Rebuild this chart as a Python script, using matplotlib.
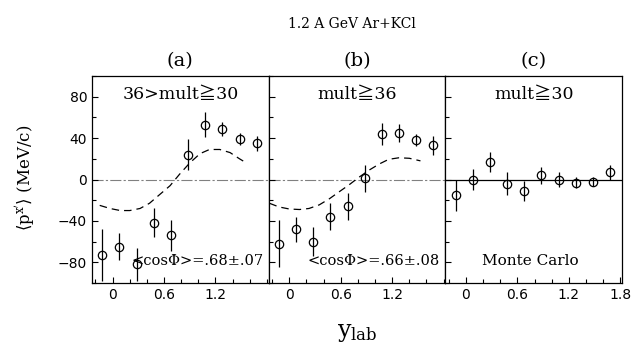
import matplotlib
matplotlib.use("Agg")
import matplotlib.pyplot as plt
from matplotlib.ticker import MultipleLocator, FixedLocator

plt.rcParams['mathtext.fontset'] = 'dejavuserif'

# ---- data ----
y_lab = [-0.12, 0.08, 0.28, 0.48, 0.68, 0.88, 1.08, 1.28, 1.48, 1.68]

px_a = [-73, -65, -82, -42, -54, 24, 53, 49, 39, 35]
err_a = [25, 13, 16, 14, 15, 15, 12, 7, 6, 7]

px_b = [-62, -48, -60, -36, -26, 1, 44, 45, 38, 33]
err_b = [23, 12, 14, 13, 13, 13, 11, 9, 6, 9]

px_c = [-15, 0, 17, -4, -11, 4, 0, -3, -2, 7]
err_c = [15, 10, 10, 11, 10, 8, 7, 5, 4, 7]

fit_a_x = [-0.15, -0.03, 0.09, 0.20, 0.32, 0.43, 0.55, 0.67, 0.78, 0.90, 1.02, 1.13, 1.25, 1.37, 1.48, 1.53]
fit_a_y = [-25, -28, -30, -30, -28, -23, -14.5, -6, 5, 16, 25, 29, 29, 26, 20, 17.5]

fit_b_x = [-0.23, -0.12, 0.0, 0.12, 0.23, 0.35, 0.47, 0.58, 0.70, 0.81, 0.93, 1.05, 1.16, 1.28, 1.40, 1.53]
fit_b_y = [-23, -26.5, -28.5, -29, -28, -24.5, -18.5, -12, -5, 2, 9, 15, 19.5, 21, 20.5, 18]

panel_labels = ["(a)", "(b)", "(c)"]
cut_labels = ["36>mult\u226730", "mult\u226736", "mult\u226730"]
bottom_labels = ["<cos\u03a6>=.68\u00b1.07", "<cos\u03a6>=.66\u00b1.08", "Monte Carlo"]
title = "1.2 A GeV Ar+KCl"

W, H = 643, 347
fig = plt.figure(figsize=(W / 100, H / 100), dpi=100)

left_px, right_px = 92, 622
top_px, bot_px = 76, 283
pw = (right_px - left_px) / 3

serif = ["DejaVu Serif", "Noto Sans CJK JP", "DejaVu Sans"]
datasets = [(px_a, err_a), (px_b, err_b), (px_c, err_c)]
fits = [(fit_a_x, fit_a_y), (fit_b_x, fit_b_y), None]

for i in range(3):
    ax = fig.add_axes([(left_px + i * pw) / W, 1 - bot_px / H, pw / W, (bot_px - top_px) / H])
    ax.set_xlim(-0.24, 1.82)
    ax.set_ylim(-100, 100)
    for s in ax.spines.values():
        s.set_linewidth(0.9)
    if i < 2:
        ax.axhline(0, color='0.5', lw=0.8, linestyle=(0, (10, 2, 2, 2)), zorder=1)
    else:
        ax.axhline(0, color='k', lw=0.9, zorder=1)
    y, e = datasets[i]
    ax.errorbar(y_lab, y, yerr=e, fmt='o', mfc='none', mec='k', ecolor='k',
                ms=6, mew=0.9, elinewidth=0.9, capsize=0, zorder=3)
    if fits[i] is not None:
        ax.plot(fits[i][0], fits[i][1], color='k', lw=0.9, linestyle=(0, (6, 4)), zorder=2)

    if i < 2:
        ax.xaxis.set_major_locator(FixedLocator([0, 0.6, 1.2]))
        xl = ["0", "0.6", "1.2"]
    else:
        ax.xaxis.set_major_locator(FixedLocator([0, 0.6, 1.2, 1.8]))
        xl = ["0", "0.6", "1.2", "1.8"]
    ax.set_xticklabels(xl)
    ax.xaxis.set_minor_locator(MultipleLocator(0.2))
    ax.yaxis.set_major_locator(FixedLocator([-80, -40, 0, 40, 80]))
    ax.yaxis.set_minor_locator(MultipleLocator(20))
    ax.tick_params(which='both', direction='in', top=False, right=False, labelsize=10)
    ax.tick_params(which='major', length=4, width=0.8)
    ax.tick_params(which='minor', length=3, width=0.8)
    if i == 0:
        ax.set_yticklabels(["\u221280", "\u221240", "0", "40", "80"])
    else:
        ax.set_yticklabels([])

    ax.text(0.5, 0.91, cut_labels[i], transform=ax.transAxes, ha='center', va='center',
            fontsize=12.5, family=serif)
    if i < 2:
        ax.text(0.97, 0.105, bottom_labels[i], transform=ax.transAxes, ha='right', va='center',
                fontsize=10.5, family=serif)
    else:
        ax.text(0.48, 0.105, bottom_labels[i], transform=ax.transAxes, ha='center', va='center',
                fontsize=11, family=serif)
    ax.text(0.5, 1.07, panel_labels[i], transform=ax.transAxes, ha='center', va='center',
            fontsize=14, family=serif)

fig.text(352 / W, 1 - 24 / H, title, ha='center', va='center', fontsize=10, family=serif)
fig.text(25 / W, 1 - 178 / H, r"$\langle\mathrm{p}^{\mathrm{x}'}\rangle$ (MeV/c)", rotation=90,
         ha='center', va='center', fontsize=12, family=serif)
fig.text(357 / W, 1 - 333 / H, r"$\mathrm{y}_{\mathrm{lab}}$", ha='center', va='center',
         fontsize=17, family=serif)

fig.savefig("out.png", dpi=100)
